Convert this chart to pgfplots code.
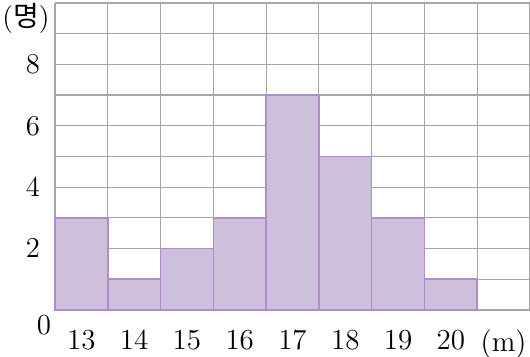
\documentclass[border=0pt]{standalone}
\usepackage{pgfplots}
\pgfplotsset{compat=1.18}
\usepackage{fontspec}
\newfontfamily\cjk{Noto Sans CJK KR}
\definecolor{barfill}{HTML}{CEBFDD}
\definecolor{baredge}{HTML}{B28BC9}
\definecolor{gridc}{HTML}{A6A6A6}
\begin{document}
\begin{tikzpicture}
\begin{axis}[
  width=237.5pt, height=153.5pt, scale only axis,
  xmin=13, xmax=22, ymin=0, ymax=10,
  axis lines*=left,
  axis line style={gridc, line width=0.8pt, -},
  xtick={13.5,14.5,...,21.5},
  xticklabels={13,14,15,16,17,18,19,20,(m)},
  ytick={2,4,6,8},
  minor xtick={13,...,22},
  minor ytick={0,...,10},
  minor grid style={gridc, line width=0.6pt},
  xminorgrids=true, yminorgrids=true,
  major tick length=0pt, minor tick length=0pt,
  tick style={draw=none},
  ticklabel style={font=\fontsize{14.5}{16}\selectfont},
  xticklabel style={yshift=-6.5pt},
  yticklabel style={xshift=-4pt},
  clip=false,
]
\addplot[ybar interval, fill=barfill, draw=baredge, line width=0.8pt]
  coordinates {(13,3) (14,1) (15,2) (16,3) (17,7) (18,5) (19,3) (20,1) (21,1)};
\node[font=\fontsize{14.5}{16}\selectfont] at ([xshift=-5.5pt,yshift=-7.5pt]rel axis cs:0,0) {0};
\node[font=\fontsize{14}{16}\selectfont, inner sep=0pt] at ([xshift=-14.5pt,yshift=-7.5pt]rel axis cs:0,1) {(\cjk 명\normalfont)};
\end{axis}
\pgfresetboundingbox
\useasboundingbox (current axis.south west) ++(-27.5pt,-23.5pt) rectangle ([yshift=1.5pt]current axis.north east);
\end{tikzpicture}
\end{document}
